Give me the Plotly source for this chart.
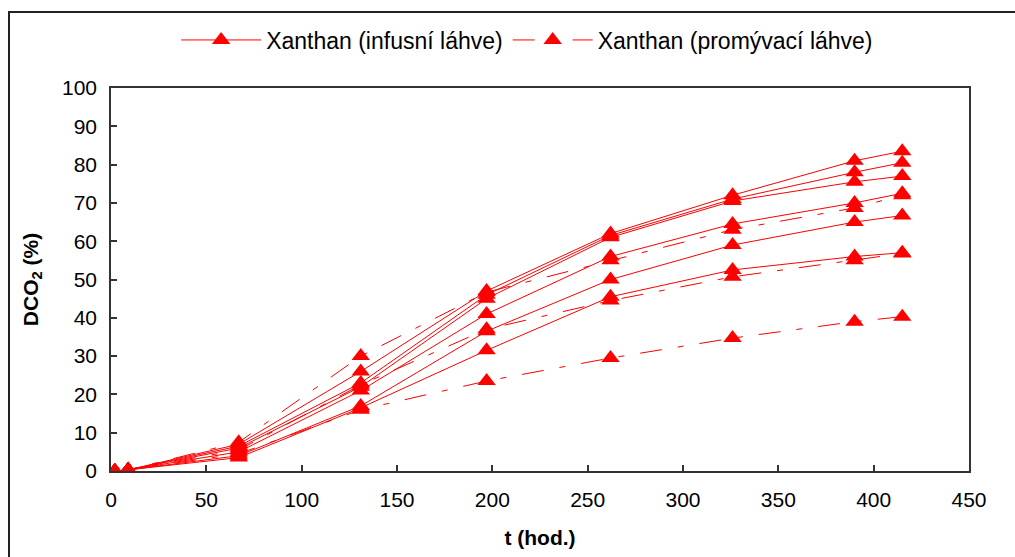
import plotly.graph_objects as go

t = [2, 9, 67, 131, 197, 262, 326, 390, 415]

infusni = {
    "S1": [0, 0.3, 7.0, 26.0, 47.0, 62.0, 72.0, 81.0, 83.5],
    "S2": [0, 0.3, 6.5, 23.0, 46.0, 61.5, 71.0, 78.0, 80.5],
    "S3": [0, 0.3, 6.0, 22.0, 45.0, 61.0, 70.5, 75.5, 77.0],
    "S4": [0, 0.3, 5.0, 21.0, 41.0, 56.0, 64.5, 70.0, 72.5],
    "S5": [0, 0.3, 4.0, 17.0, 36.5, 50.0, 59.0, 65.0, 66.7],
    "S6": [0, 0.3, 3.5, 16.5, 31.5, 45.5, 52.5, 56.0, 57.0],
}
promyvaci = {
    "D1": [0, 0.3, 7.5, 30.0, 46.7, 55.0, 63.0, 68.7, 72.0],
    "D2": [0, 0.3, 5.5, 22.5, 37.0, 44.5, 50.7, 55.0, 56.8],
    "D3": [0, 0.3, 4.5, 16.0, 23.5, 29.5, 34.7, 39.0, 40.3],
}

x_ticks = [0, 50, 100, 150, 200, 250, 300, 350, 400, 450]
y_ticks = [0, 10, 20, 30, 40, 50, 60, 70, 80, 90, 100]

RED = "#FF0000"
DASH = "22px,16px,6px,16px"

fig = go.Figure()
for i, (k, v) in enumerate(infusni.items()):
    fig.add_trace(go.Scatter(
        x=t, y=v, mode="lines+markers",
        name="Xanthan (infusní láhve)", legendgroup="inf", showlegend=(i == 0),
        line=dict(color=RED, width=1),
        marker=dict(symbol="triangle-up", size=16, color=RED),
    ))
for i, (k, v) in enumerate(promyvaci.items()):
    fig.add_trace(go.Scatter(
        x=t, y=v, mode="lines+markers",
        name="Xanthan (promývací láhve)", legendgroup="pro", showlegend=(i == 0),
        line=dict(color=RED, width=1, dash=DASH),
        marker=dict(symbol="triangle-up", size=16, color=RED),
    ))

L, R, T, B = 111, 46, 88, 86
W, H = 1015, 557
pw, ph = W - L - R, H - T - B

axis_common = dict(
    showgrid=False, zeroline=False, showline=True, linecolor="#333333", linewidth=1.5,
    mirror=True, ticks="inside", ticklen=6, tickcolor="#333333", tickwidth=1.5,
    tickfont=dict(family="Liberation Sans, Arial", size=21, color="black"),
    automargin=False,
)

fig.update_layout(
    width=W, height=H,
    margin=dict(l=L, r=R, t=T, b=B),
    paper_bgcolor="white", plot_bgcolor="white",
    font=dict(family="Liberation Sans, Arial", color="black"),
    xaxis=dict(range=[0, 450], tickvals=x_ticks, ticklabelstandoff=9,
               title=dict(text="<b>t (hod.)</b>", font=dict(size=21), standoff=20),
               **axis_common),
    yaxis=dict(range=[0, 100], tickvals=y_ticks, ticklabelstandoff=8,
               title=dict(text="<b>DCO<sub>2</sub> (%)</b>", font=dict(size=21), standoff=18),
               **axis_common),
    legend=dict(orientation="h", x=0.485, xanchor="center", y=(H - B - 40) / ph,
                yanchor="middle", font=dict(size=23), itemwidth=80,
                bgcolor="rgba(0,0,0,0)"),
    showlegend=True,
)

# outer chart border
fig.add_shape(type="rect", xref="paper", yref="paper",
              x0=(9 - L) / pw, x1=(W + 10 - L) / pw,
              y0=-(B + 10) / ph, y1=(H - B - 12) / ph,
              line=dict(color="#222222", width=2), fillcolor="rgba(0,0,0,0)", layer="below")

fig.write_html("out.html")
